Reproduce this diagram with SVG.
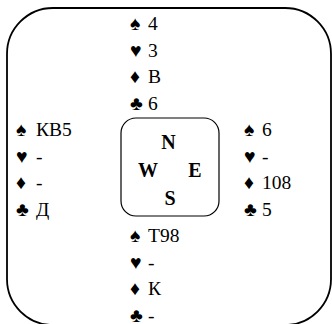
<svg xmlns="http://www.w3.org/2000/svg" width="332" height="324" viewBox="0 0 332 324">
<style>
.frame{fill:none;stroke:#000;stroke-width:1.8}
.box{fill:none;stroke:#000;stroke-width:1.2}
text{font-family:"Liberation Serif","Times New Roman",serif;fill:#000}
.suit{font-size:19.5px}
.card{font-size:19.5px}
.dir{font-size:20px;font-weight:bold;text-anchor:middle}
</style>
<rect id="table" class="frame" x="7" y="8" width="324" height="317" rx="46" ry="46"/>
<g id="north">
<text class="suit" x="130" y="30">♠</text><text class="card" x="148" y="30">4</text>
<text class="suit" x="130" y="56.5">♥</text><text class="card" x="148" y="56.5">3</text>
<text class="suit" x="130" y="83">♦</text><text class="card" x="148" y="83">В</text>
<text class="suit" x="130" y="109.5">♣</text><text class="card" x="148" y="109.5">6</text>
</g>
<g id="west">
<text class="suit" x="16" y="136">♠</text><text class="card" x="36" y="136">КВ5</text>
<text class="suit" x="16" y="162.5">♥</text><text class="card" x="36" y="162.5">-</text>
<text class="suit" x="16" y="189">♦</text><text class="card" x="36" y="189">-</text>
<text class="suit" x="16" y="215.5">♣</text><text class="card" x="36" y="215.5">Д</text>
</g>
<g id="east">
<text class="suit" x="244" y="136">♠</text><text class="card" x="262" y="136">6</text>
<text class="suit" x="244" y="162.5">♥</text><text class="card" x="262" y="162.5">-</text>
<text class="suit" x="244" y="189">♦</text><text class="card" x="262" y="189">108</text>
<text class="suit" x="244" y="215.5">♣</text><text class="card" x="262" y="215.5">5</text>
</g>
<g id="compass">
<rect class="box" x="121" y="118" width="98" height="98" rx="15" ry="15"/>
<text class="dir" x="168.5" y="149">N</text>
<text class="dir" x="148" y="177">W</text>
<text class="dir" x="195" y="177">E</text>
<text class="dir" x="170" y="205">S</text>
</g>
<g id="south">
<text class="suit" x="130" y="242">♠</text><text class="card" x="148" y="242">Т98</text>
<text class="suit" x="130" y="268.5">♥</text><text class="card" x="148" y="268.5">-</text>
<text class="suit" x="130" y="295">♦</text><text class="card" x="148" y="295">К</text>
<text class="suit" x="130" y="321.5">♣</text><text class="card" x="148" y="321.5">-</text>
</g>
</svg>
